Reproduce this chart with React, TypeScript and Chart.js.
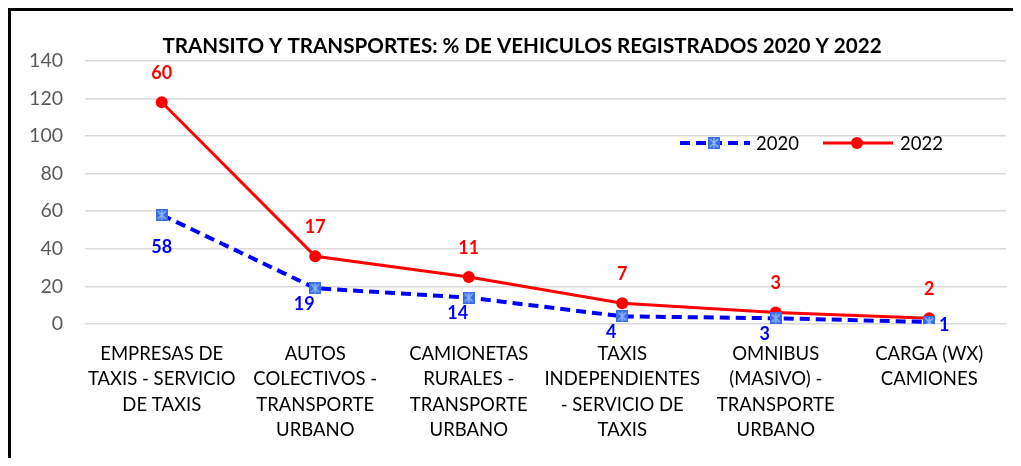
import React, { useEffect, useRef } from "react";
import { Chart, registerables } from "chart.js";

Chart.register(...registerables);

const chartTitle = "TRANSITO Y TRANSPORTES: % DE VEHICULOS REGISTRADOS 2020 Y 2022";
const categories: string[][] = [
  ["EMPRESAS DE", "TAXIS - SERVICIO", "DE TAXIS"],
  ["AUTOS", "COLECTIVOS -", "TRANSPORTE", "URBANO"],
  ["CAMIONETAS", "RURALES -", "TRANSPORTE", "URBANO"],
  ["TAXIS", "INDEPENDIENTES", "- SERVICIO DE", "TAXIS"],
  ["OMNIBUS", "(MASIVO) -", "TRANSPORTE", "URBANO"],
  ["CARGA (WX)", "CAMIONES"],
];
const seriesNames = ["2020", "2022"];
const values2020 = [58, 19, 14, 4, 3, 1];
const values2022 = [60, 17, 11, 7, 3, 2];
const yMin = 0;
const yMax = 140;
const yStep = 20;

const BLUE = "#0000FF";
const RED = "#FF0000";
const FONT = "Lato, 'Open Sans', sans-serif";

function makeStarSquare(size: number): HTMLCanvasElement {
  const c = document.createElement("canvas");
  c.width = size;
  c.height = size;
  const g = c.getContext("2d")!;
  g.fillStyle = "#3A6CE6";
  g.fillRect(0, 0, size, size);
  g.strokeStyle = "#8FB6F7";
  g.lineWidth = 1.5;
  g.beginPath();
  g.moveTo(2, 2);
  g.lineTo(size - 2, size - 2);
  g.moveTo(size - 2, 2);
  g.lineTo(2, size - 2);
  g.moveTo(size / 2, 1);
  g.lineTo(size / 2, size - 1);
  g.stroke();
  return c;
}

const placement2020 = ["below", "belowLeft", "belowLeft", "belowLeft", "belowLeft", "right"];

const titlePlugin = {
  id: "customTitle",
  afterDraw(chart: any) {
    const { ctx } = chart;
    ctx.save();
    ctx.font = `bold 20.6px ${FONT}`;
    ctx.fillStyle = "#000";
    ctx.textAlign = "center";
    ctx.textBaseline = "middle";
    ctx.fillText(chartTitle, 511, 35);
    ctx.restore();
  },
};

const dataLabelPlugin = {
  id: "dataLabels",
  afterDatasetsDraw(chart: any) {
    const ctx = chart.ctx;
    ctx.save();
    ctx.font = `bold 18px ${FONT}`;
    ctx.textAlign = "center";
    ctx.textBaseline = "middle";
    chart.data.datasets.forEach((ds: any, di: number) => {
      const meta = chart.getDatasetMeta(di);
      meta.data.forEach((pt: any, i: number) => {
        const v = ds.data[i];
        let x = pt.x;
        let y = pt.y;
        if (di === 0) {
          ctx.fillStyle = BLUE;
          const p = placement2020[i];
          if (p === "below") y += 32;
          else if (p === "belowLeft") {
            x -= 11;
            y += 16;
          } else {
            x += 15;
            y += 3;
          }
        } else {
          ctx.fillStyle = RED;
          y -= 29;
        }
        ctx.fillText(String(v), x, y);
      });
    });
    ctx.restore();
  },
};

const legendPlugin = {
  id: "customLegend",
  afterDraw(chart: any) {
    const { ctx, chartArea } = chart;
    const y = chartArea.top + 82;
    const x0 = chartArea.right - 326;
    ctx.save();
    ctx.strokeStyle = BLUE;
    ctx.lineWidth = 4;
    ctx.setLineDash([10, 6]);
    ctx.beginPath();
    ctx.moveTo(x0, y);
    ctx.lineTo(x0 + 70, y);
    ctx.stroke();
    ctx.setLineDash([]);
    const star = chart.$starImg;
    if (star) ctx.drawImage(star, x0 + 34 - 6, y - 6, 12, 12);
    ctx.fillStyle = "#000";
    ctx.font = `18.5px ${FONT}`;
    ctx.textAlign = "left";
    ctx.textBaseline = "middle";
    ctx.fillText(seriesNames[0], x0 + 76, y + 1);
    const x1 = x0 + 143;
    ctx.strokeStyle = RED;
    ctx.lineWidth = 3;
    ctx.beginPath();
    ctx.moveTo(x1, y);
    ctx.lineTo(x1 + 70, y);
    ctx.stroke();
    ctx.fillStyle = RED;
    ctx.beginPath();
    ctx.arc(x1 + 34, y, 6, 0, Math.PI * 2);
    ctx.fill();
    ctx.fillStyle = "#000";
    ctx.fillText(seriesNames[1], x1 + 77, y + 1);
    ctx.restore();
  },
};

export default function App() {
  const ref = useRef<HTMLCanvasElement | null>(null);
  useEffect(() => {
    if (!ref.current) return;
    const star = makeStarSquare(12);
    const chart: any = new Chart(ref.current, {
      type: "line",
      data: {
        labels: categories,
        datasets: [
          {
            label: seriesNames[0],
            data: values2020,
            borderColor: BLUE,
            borderWidth: 4,
            borderDash: [10, 6],
            pointStyle: star as any,
            pointRadius: 6,
            fill: false,
            tension: 0,
          },
          {
            label: seriesNames[1],
            data: values2022,
            borderColor: RED,
            backgroundColor: RED,
            borderWidth: 3,
            pointStyle: "circle",
            pointRadius: 6,
            pointBorderWidth: 0,
            fill: false,
            tension: 0,
          },
        ],
      },
      options: {
        responsive: false,
        animation: false,
        layout: { padding: { left: 17, right: 15, top: 50, bottom: 14 } },
        plugins: {
          legend: { display: false },
          tooltip: { enabled: false },
          title: { display: false },
        },
        scales: {
          x: {
            offset: true,
            grid: { display: false },
            border: { display: false },
            ticks: {
              color: "#000",
              font: { family: FONT, size: 18.5, lineHeight: 1.38 },
              maxRotation: 0,
              autoSkip: false,
              padding: 9,
            },
            afterFit: (s: any) => {
              s.paddingLeft = 0;
              s.paddingRight = 0;
            },
          },
          y: {
            stacked: true,
            min: yMin,
            max: yMax,
            grid: { color: "#D9D9D9", lineWidth: 1.5, drawTicks: false },
            border: { display: false },
            ticks: {
              stepSize: yStep,
              color: "#595959",
              font: { family: FONT, size: 19.5 },
              padding: 22,
            },
            afterFit: (s: any) => {
              s.width = 57;
            },
          },
        },
      },
      plugins: [titlePlugin, dataLabelPlugin, legendPlugin],
    });
    chart.$starImg = star;
    chart.draw();
    return () => chart.destroy();
  }, []);
  return (
    <div
      style={{
        width: 1013,
        height: 458,
        marginBottom: -8,
        borderLeft: "3px solid #000",
        borderTop: "3px solid #000",
        boxSizing: "border-box",
        background: "#fff",
      }}
    >
      <canvas ref={ref} width={1010} height={455} style={{ display: "block" }} />
    </div>
  );
}
